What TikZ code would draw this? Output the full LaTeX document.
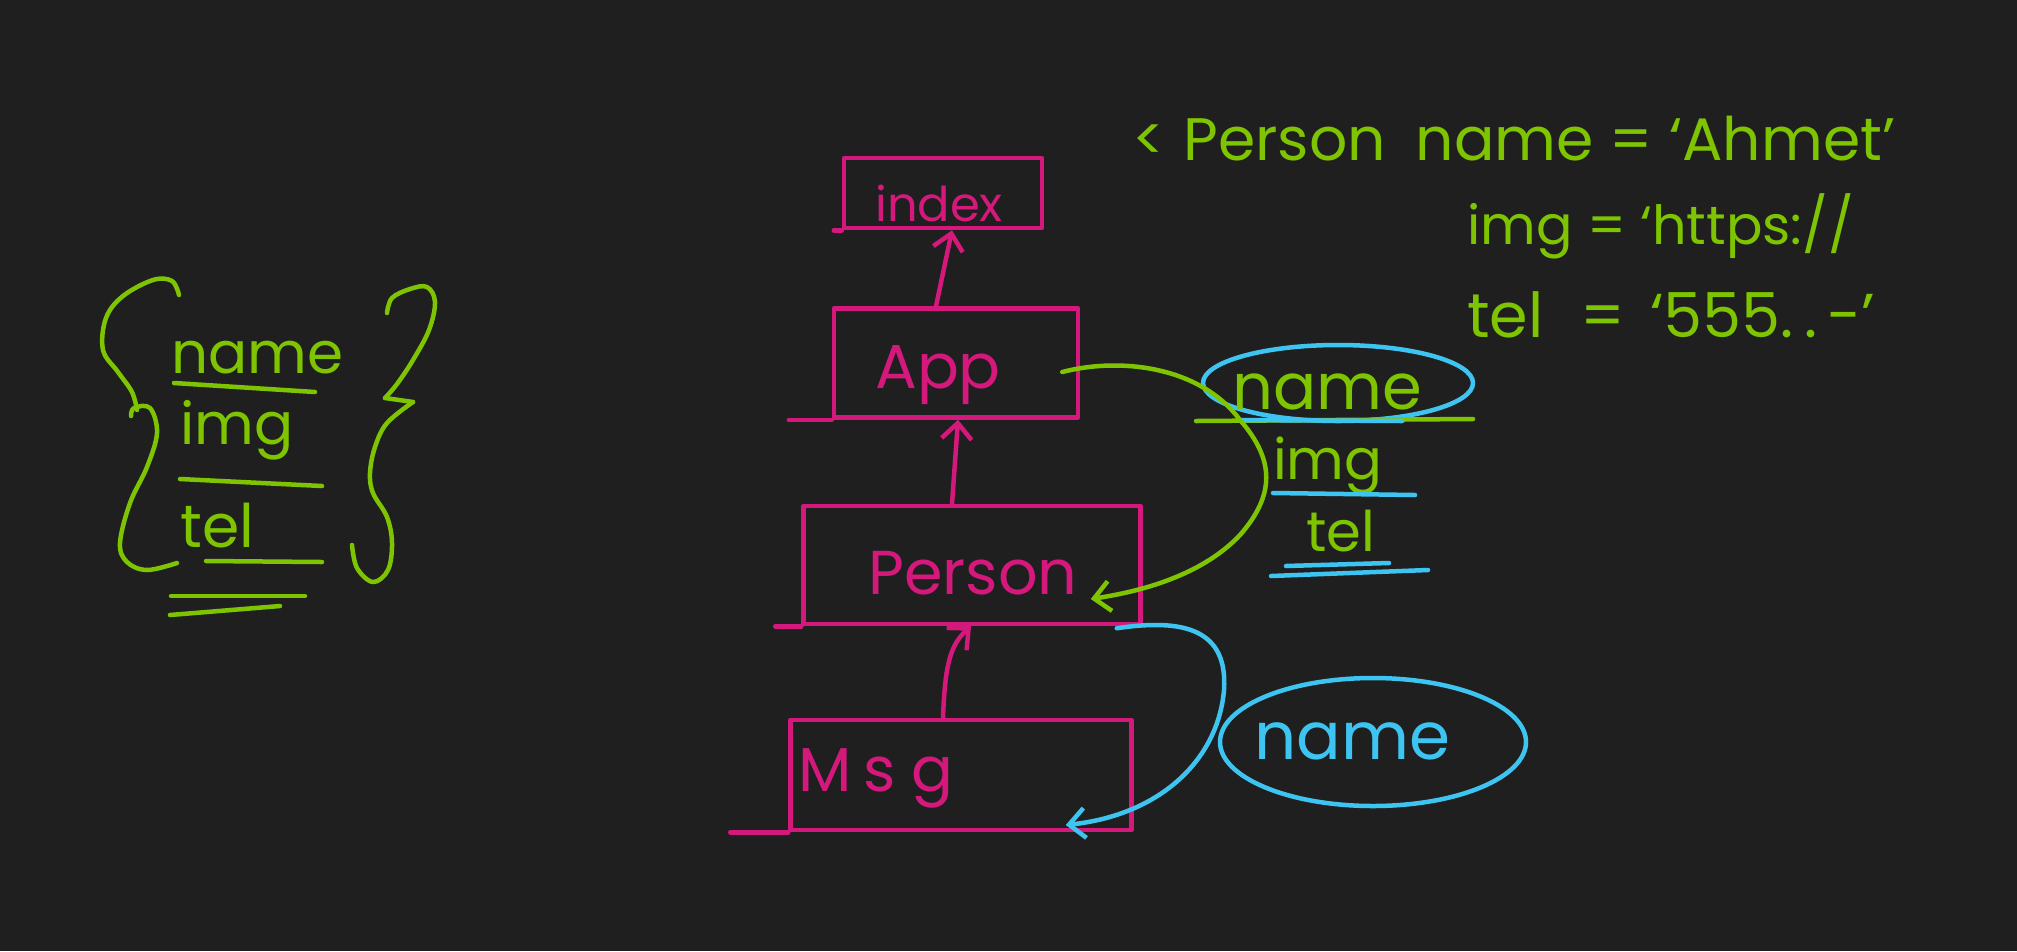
\documentclass[tikz,border=0pt]{standalone}
\usepackage{fontspec}
\setmainfont{Poppins}
\usetikzlibrary{arrows.meta,shapes.geometric}
\definecolor{bgc}{RGB}{31,31,31}
\definecolor{pinkc}{RGB}{212,24,124}
\definecolor{greenc}{RGB}{126,196,0}
\definecolor{bluec}{RGB}{62,196,240}
\newcommand{\fs}[1]{\fontsize{#1}{#1}\selectfont}
\begin{document}
\begin{tikzpicture}[x=1pt,y=-1pt,
  pen/.style={line width=4.5pt,line cap=round,line join=round},
  pinkpen/.style={pen,draw=pinkc},
  greenpen/.style={pen,draw=greenc},
  bluepen/.style={pen,draw=bluec},
  compbox/.style={pinkpen,rectangle,inner sep=0pt},
  barb/.style={-{Straight Barb[length=16pt,width=30pt]}},
  ptxt/.style={text=pinkc,inner sep=0pt,anchor=base west},
  gtxt/.style={text=greenc,inner sep=0pt,anchor=base west},
  btxt/.style={text=bluec,inner sep=0pt,anchor=base west},
  oval/.style={bluepen,ellipse,inner sep=0pt}]
\fill[bgc] (0,0) rectangle (2017,951);
\useasboundingbox (0,0) rectangle (2017,951);

% component boxes
\node[compbox,minimum width=198pt,minimum height=70pt] (index) at (943,193) {};
\node[compbox,minimum width=244pt,minimum height=109pt] (App) at (956,363) {};
\node[compbox,minimum width=337pt,minimum height=118pt] (Person) at (972,565) {};
\node[compbox,minimum width=341pt,minimum height=110pt] (Msg) at (961,775) {};
\draw[pinkpen] ([xshift=-8pt]index.south west) -- (index.south west);
\draw[pinkpen] ([xshift=-43pt]App.south west) -- (App.south west);
\draw[pinkpen] ([xshift=-26pt]Person.south west) -- (Person.south west);
\draw[pinkpen] ([xshift=-58pt]Msg.south west) -- (Msg.south west);

\node[ptxt,font=\fs{48}] (tindex) at (875,221) {index};
\node[ptxt,font=\fs{62}] (tApp) at (875,388) {App};
\node[ptxt,font=\fs{62}] (tPerson) at (868,594) {Person};
\node[ptxt,font=\fs{62}] (tMsg) at (798,791) {M\hspace{0.2em}s\hspace{0.25em}g};

% pink arrows
\draw[pinkpen,barb] ([xshift=-20pt]App.north) -- ([xshift=9pt]index.south);
\draw[pinkpen,barb] ([xshift=-20pt]Person.north) -- ([xshift=2pt]App.south);
\draw[pinkpen,barb] ([xshift=-18pt]Msg.north) .. controls (945,665) and (950,645) .. ([xshift=-1pt]Person.south);

% props beside Person
\node[oval,minimum width=270pt,minimum height=76pt] (props) at (1338,383) {};
\node[gtxt,font=\fs{64}] (pname) at (1232,409) {name};
\node[gtxt,font=\fs{56}] (pimg) at (1273,479) {img};
\node[gtxt,font=\fs{56}] (ptel) at (1306,551) {tel};
\draw[greenpen] (1196,421) -- (1473,419);
\draw[bluepen] (1241,420) -- (1402,421);
\draw[bluepen] (1273,493) -- (1415,495);
\draw[bluepen] (1286,566) -- (1389,563);
\draw[bluepen] (1271,576) -- (1428,570);

% green connector App -> Person
\draw[greenpen,barb] ([xshift=-18pt,yshift=-9pt]App.east)
  .. controls (1120,357) and (1200,366) .. (1240,420)
  .. controls (1275,460) and (1275,495) .. (1240,535)
  .. controls (1205,572) and (1150,590) .. ([xshift=-52pt,yshift=-34pt]Person.east);

% blue oval with name
\node[oval,minimum width=306pt,minimum height=128pt] (msgprop) at (1373,742) {};
\node[btxt,font=\fs{66}] (mname) at (1254,759) {name};

% blue connector Person -> Msg
\draw[bluepen,barb] ([xshift=-26pt,yshift=-2pt]Person.south east)
  .. controls (1185,618) and (1228,630) .. (1224,690)
  .. controls (1218,760) and (1160,815) .. ([xshift=-68pt,yshift=-50pt]Msg.east);

% JSX line
\node[gtxt,font=\fs{60}] (jsx1) at (1132,160) {<\hspace{0.3em}Person\hspace{0.5em}name = ‘Ahmet’};
\node[gtxt,font=\fs{54}] (jsx2) at (1467,244) {img = ‘https://};
\node[gtxt,font=\fs{62}] (jsx3) at (1467,337) {tel\hspace{0.6em}=\hspace{0.4em}‘555.\,.\,-’};

% left object
\node[gtxt,font=\fs{58}] (oname) at (171,373) {name};
\node[gtxt,font=\fs{58}] (oimg) at (180,444) {img};
\node[gtxt,font=\fs{60}] (otel) at (180,547) {tel};
\draw[greenpen] (174,383) -- (315,392);
\draw[greenpen] (180,479) -- (322,486);
\draw[greenpen] (206,561) -- (322,562);
\draw[greenpen] (171,596) -- (305,596);
\draw[greenpen] (170,615) -- (280,606);
% braces
\draw[greenpen] plot[smooth,tension=0.6] coordinates {(179,295) (172,281) (153,280) (123,296) (106,318) (103,350) (118,372) (132,392) (137,410)};
\draw[greenpen] plot[smooth,tension=0.6] coordinates {(131,416) (134,408) (150,408) (157,433) (147,467) (130,503) (120,543) (127,562) (147,570) (177,563)};
\draw[greenpen] plot[smooth,tension=0.6] coordinates {(387,313) (392,298) (410,289) (427,287) (435,302) (429,330) (413,360) (397,384) (385,398)};
\draw[greenpen] (385,398) -- (413,402);
\draw[greenpen] plot[smooth,tension=0.6] coordinates {(413,402) (387,423) (375,447) (370,473) (373,493) (387,517) (392,543) (388,570) (373,582) (357,568) (352,545)};
\end{tikzpicture}
\end{document}
